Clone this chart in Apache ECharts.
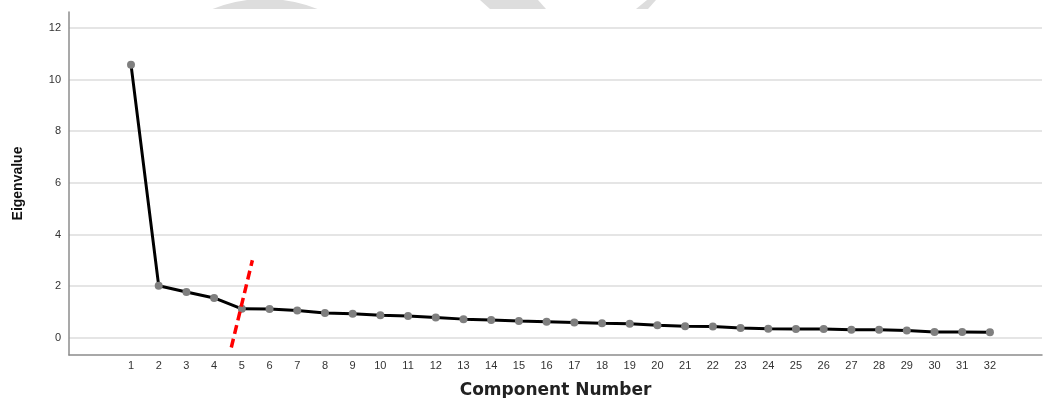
<!DOCTYPE html>
<html>
<head>
<meta charset="utf-8">
<script src="https://cdn.jsdelivr.net/npm/echarts@6/dist/echarts.min.js"></script>
<style>
  html, body { margin: 0; padding: 0; background: #fff; }
  #scree { width: 1043px; height: 398px; }
</style>
</head>
<body>
<div id="scree"></div>
<script>
var components = [1, 2, 3, 4, 5, 6, 7, 8, 9, 10, 11, 12, 13, 14, 15, 16,
    17, 18, 19, 20, 21, 22, 23, 24, 25, 26, 27, 28, 29, 30, 31, 32];
var eigenvalues = [10.58, 2.01, 1.77, 1.54, 1.12, 1.11, 1.05, 0.96, 0.93, 0.87, 0.84, 0.78,
    0.72, 0.69, 0.65, 0.62, 0.59, 0.56, 0.54, 0.48, 0.44, 0.43, 0.38, 0.35,
    0.34, 0.34, 0.31, 0.31, 0.28, 0.22, 0.22, 0.21];
// red "elbow" cut drawn by hand on the plot
var cutX = [4.62, 5.38];
var cutY = [-0.38, 3.00];

var myChart = echarts.init(document.getElementById("scree"));

var screeData = components.map(function (c, i) {
    return [c, eigenvalues[i]];
});
var cutData = cutX.map(function (x, i) {
    return [x, cutY[i]];
});

// faint watermark pieces peeking in at the top edge
function arcPoints() {
    var pts = [];
    var cx = 265, cy = 141.6, r = 142.6;
    for (var a = -21.6; a <= 21.6; a += 1.2) {
        var rad = a * Math.PI / 180;
        pts.push([cx + r * Math.sin(rad), cy - r * Math.cos(rad)]);
    }
    return pts;
}

var option = {
    backgroundColor: "#fff",
    animation: false,
    graphic: [
        { type: 'polygon', shape: { points: arcPoints() }, style: { fill: '#dddddd' }, z: -1 },
        { type: 'polygon', shape: { points: [[480, 0], [538, 0], [546, 9], [490, 9]] }, style: { fill: '#dddddd' }, z: -1 },
        { type: 'polygon', shape: { points: [[647, 0], [656, 0], [648, 9], [636, 9]] }, style: { fill: '#dddddd' }, z: -1 }
    ],
    grid: {
        left: 69,
        right: 1,
        top: 12,
        bottom: 43,
        containLabel: false,
        outerBoundsMode: 'none'
    },
    xAxis: {
        type: 'value',
        min: -1.238,
        max: 33.88,
        splitNumber: 35,
        minInterval: 1,
        maxInterval: 1,
        name: 'Component Number',
        nameLocation: 'middle',
        nameGap: 27,
        nameTextStyle: {
            fontFamily: 'DejaVu Sans',
            fontWeight: 'bold',
            fontSize: 17,
            color: '#222'
        },
        axisLine: { show: true, onZero: false, lineStyle: { color: '#8c8c8c', width: 1.5 } },
        axisTick: { show: false },
        splitLine: { show: false },
        axisLabel: {
            showMinLabel: false,
            showMaxLabel: false,
            margin: 5,
            fontFamily: 'Liberation Sans',
            fontSize: 11,
            color: '#333',
            formatter: function (v) {
                if (Math.abs(v - Math.round(v)) > 1e-6) return '';
                if (v < 1 || v > 32) return '';
                return String(Math.round(v));
            }
        }
    },
    yAxis: {
        type: 'value',
        min: -0.67,
        max: 12.62,
        splitNumber: 7,
        minInterval: 2,
        maxInterval: 2,
        name: 'Eigenvalue',
        nameLocation: 'middle',
        nameGap: 44,
        nameTextStyle: {
            fontFamily: 'Liberation Sans',
            fontWeight: 'bold',
            fontSize: 14,
            color: '#111'
        },
        axisLine: { show: true, onZero: false, lineStyle: { color: '#8c8c8c', width: 1.5 } },
        axisTick: { show: false },
        splitLine: {
            show: true,
            showMinLine: false,
            showMaxLine: false,
            lineStyle: { color: '#dcdcdc', width: 1.5 }
        },
        axisLabel: {
            showMinLabel: false,
            showMaxLabel: false,
            margin: 8,
            fontFamily: 'Liberation Sans',
            fontSize: 11,
            color: '#333',
            formatter: function (v) {
                if (Math.abs(v - Math.round(v)) > 1e-6) return '';
                return String(Math.round(v));
            }
        }
    },
    series: [
        {
            type: 'line',
            data: screeData,
            symbol: 'circle',
            symbolSize: 8,
            lineStyle: { color: '#000', width: 3 },
            itemStyle: { color: '#7f7f7f' },
            z: 3
        },
        {
            type: 'line',
            data: cutData,
            symbol: 'none',
            lineStyle: { color: '#ff0000', width: 3.5, type: [9, 5] },
            z: 4
        }
    ]
};

myChart.setOption(option);
</script>
</body>
</html>
